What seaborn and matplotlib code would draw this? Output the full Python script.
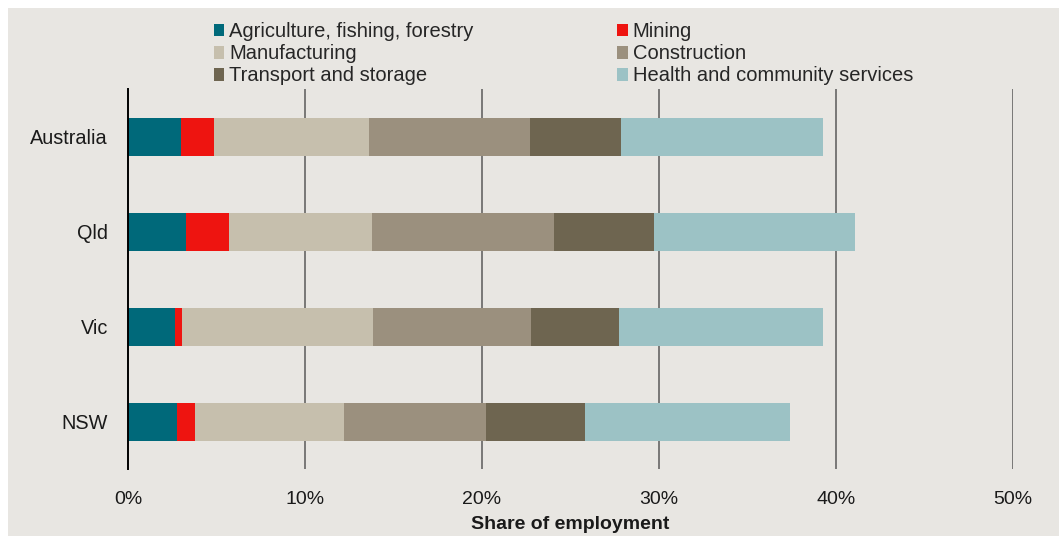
import matplotlib
matplotlib.use("Agg")
import matplotlib.pyplot as plt
from matplotlib.patches import Patch, Rectangle
import numpy as np
import pandas as pd
import seaborn as sns

regions = ["Australia", "Qld", "Vic", "NSW"]
industries = [
    "Agriculture, fishing, forestry",
    "Mining",
    "Manufacturing",
    "Construction",
    "Transport and storage",
    "Health and community services",
]
# Share of employment (%) by industry, one list per region
agriculture = [3.0, 3.3, 2.65, 2.75]
mining = [1.85, 2.4, 0.4, 1.05]
manufacturing = [8.75, 8.1, 10.8, 8.4]
construction = [9.1, 10.25, 8.9, 8.0]
transport = [5.15, 5.65, 5.0, 5.6]
health = [11.4, 11.4, 11.5, 11.6]
x_ticks = [0, 10, 20, 30, 40, 50]
x_tick_labels = ["0%", "10%", "20%", "30%", "40%", "50%"]

colors = ["#00697A", "#EE1410", "#C6BFAD", "#9B907E", "#6E6550", "#9CC2C5"]
panel = "#E8E6E2"

shares = np.array([agriculture, mining, manufacturing, construction, transport, health])
cumulative = shares.cumsum(axis=0)
df = pd.DataFrame({"region": regions})
for name, cum in zip(industries, cumulative):
    df[name] = cum

sns.set_theme(style="white")
plt.rcParams["font.family"] = ["Liberation Sans", "DejaVu Sans"]

fig = plt.figure(figsize=(10.59, 5.36), dpi=100, facecolor="white")
fig.patches.append(Rectangle((8 / 1059, 0), 1, 1 - 8 / 536, transform=fig.transFigure,
                             facecolor=panel, edgecolor="none", zorder=-10))

ax = fig.add_axes([128 / 1059, 1 - 469 / 536, (1013 - 128) / 1059, (469 - 89) / 536])
ax.set_facecolor("none")
ax.set_zorder(1)

# Stacked bars: draw cumulative totals from the outermost segment inwards
for name, col in reversed(list(zip(industries, colors))):
    sns.barplot(data=df, x=name, y="region", order=regions, orient="h",
                color=col, saturation=1, width=0.4, errorbar=None,
                linewidth=0, ax=ax, zorder=3)

ax.set_xlim(0, 50)
ax.set_ylim(3.5, -0.5)
ax.set_xticks(x_ticks)
ax.set_xticklabels(x_tick_labels, fontsize=14)
ax.tick_params(axis="both", length=0, colors="#1a1a1a")
ax.tick_params(axis="x", pad=15.5)
ax.tick_params(axis="y", pad=14.4, labelsize=14.3)
ax.set_ylabel("")
ax.set_xlabel("Share of employment", fontsize=14, fontweight="bold",
              color="#1a1a1a", labelpad=6)

for xv in x_ticks[1:]:
    ax.axvline(xv, color="#5a5a5a", linewidth=1.1, zorder=1)
for side in ["top", "right", "bottom"]:
    ax.spines[side].set_visible(False)
ax.spines["left"].set_color("black")
ax.spines["left"].set_linewidth(1.4)
ax.spines["left"].set_zorder(4)

order = [0, 2, 4, 1, 3, 5]
handles = [Patch(facecolor=colors[i], edgecolor="none") for i in order]
labels = [industries[i] for i in order]
fig.legend(handles, labels, ncol=2, loc="upper left",
           bbox_to_anchor=(214 / 1059, 1 - 22 / 536), frameon=False,
           fontsize=14.5, handlelength=0.5, handleheight=0.6, handletextpad=0.25,
           labelspacing=0.16, columnspacing=7.15, borderpad=0, borderaxespad=0)

fig.savefig("out.png", dpi=100, facecolor="white")
